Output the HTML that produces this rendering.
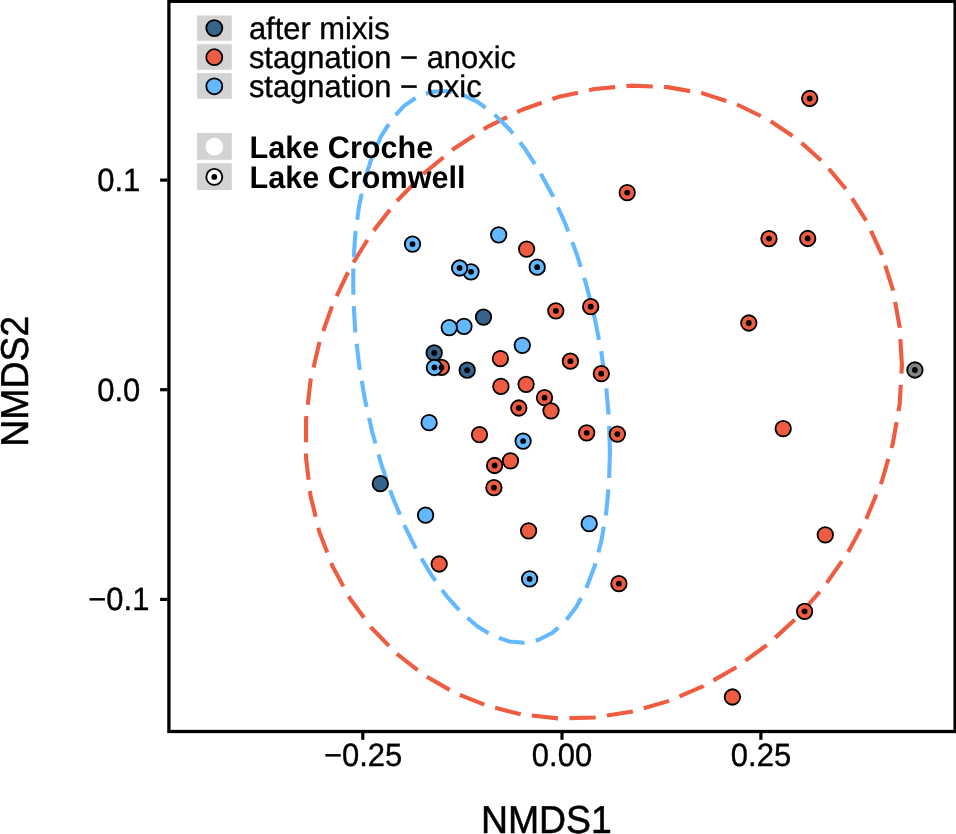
<!DOCTYPE html>
<html><head><meta charset="utf-8"><title>NMDS</title>
<style>
html,body{margin:0;padding:0;background:#fff}
body{width:956px;height:834px;overflow:hidden}
svg{display:block}
text{font-family:"Liberation Sans",Arial,Helvetica,sans-serif;fill:#000;text-rendering:geometricPrecision}
.tk{font-size:31px;stroke:#000;stroke-width:.35px}
.ax{font-size:37.4px;stroke:#000;stroke-width:.5px}
.lg{font-size:30.9px;stroke:#000;stroke-width:.35px}
.lb{font-size:30.6px;font-weight:bold}
</style></head><body>
<svg width="956" height="834" viewBox="0 0 956 834">
<rect x="0" y="0" width="956" height="834" fill="#fff"/>
<g fill="none" stroke-width="4.10" stroke-dasharray="26.36 11.30" stroke-linejoin="round">
<path d="M901.92 365.40 L899.66 327.05 L892.91 289.83 L881.78 254.31 L866.43 221.04 L847.11 190.51 L824.09 163.18 L797.73 139.48 L768.43 119.76 L736.63 104.32 L702.81 93.39 L667.50 87.14 L631.22 85.67 L594.52 89.00 L557.96 97.07 L522.09 109.76 L487.46 126.89 L454.59 148.19 L423.98 173.33 L396.10 201.95 L371.36 233.60 L350.15 267.80 L332.78 304.04 L319.51 341.76 L310.56 380.41 L306.05 419.37 L306.05 458.08 L310.56 495.94 L319.51 532.38 L332.78 566.84 L350.15 598.80 L371.36 627.78 L396.10 653.35 L423.98 675.10 L454.59 692.71 L487.46 705.92 L522.09 714.52 L557.96 718.39 L594.52 717.46 L631.22 711.76 L667.50 701.35 L702.81 686.41 L736.63 667.17 L768.43 643.90 L797.73 616.97 L824.09 586.78 L847.11 553.79 L866.43 518.50 L881.78 481.45 L892.91 443.19 L899.66 404.31 L901.92 365.40" stroke="#ee5c42" stroke-dashoffset="0"/>
<path d="M609.95 452.25 L608.98 419.36 L606.07 385.66 L601.28 351.69 L594.67 317.94 L586.34 284.93 L576.43 253.16 L565.07 223.12 L552.45 195.25 L538.76 169.98 L524.19 147.70 L508.98 128.74 L493.35 113.39 L477.54 101.88 L461.80 94.38 L446.35 91.01 L431.43 91.83 L417.27 96.81 L404.09 105.89 L392.08 118.92 L381.43 135.71 L372.29 156.00 L364.81 179.49 L359.09 205.82 L355.24 234.58 L353.29 265.36 L353.29 297.67 L355.24 331.02 L359.09 364.92 L364.81 398.85 L372.29 432.29 L381.43 464.74 L392.08 495.71 L404.09 524.72 L417.27 551.33 L431.43 575.15 L446.35 595.82 L461.80 613.00 L477.54 626.46 L493.35 635.98 L508.98 641.42 L524.19 642.70 L538.76 639.80 L552.45 632.75 L565.07 621.68 L576.43 606.74 L586.34 588.16 L594.67 566.23 L601.28 541.28 L606.07 513.68 L608.98 483.85 L609.95 452.25" stroke="#63b8ff" stroke-dashoffset="0"/>
<path d="M901.80 367.40 L901.92 365.40 L901.80 363.41" stroke="#ee5c42" stroke-dasharray="none"/>
<path d="M609.89 454.25 L609.95 452.25 L609.89 450.25" stroke="#63b8ff" stroke-dasharray="none"/>
</g>
<g stroke="#000" stroke-width="1.80">
<circle cx="412.5" cy="244.1" r="7.75" fill="#63b8ff"/>
<circle cx="498.7" cy="234.8" r="7.75" fill="#63b8ff"/>
<circle cx="526.6" cy="249.1" r="7.75" fill="#ee5c42"/>
<circle cx="537.2" cy="267.2" r="7.75" fill="#63b8ff"/>
<circle cx="471.0" cy="271.8" r="7.75" fill="#63b8ff"/>
<circle cx="459.6" cy="268.0" r="7.75" fill="#63b8ff"/>
<circle cx="555.8" cy="310.8" r="7.75" fill="#ee5c42"/>
<circle cx="483.5" cy="317.1" r="7.75" fill="#36648b"/>
<circle cx="464.0" cy="326.3" r="7.75" fill="#63b8ff"/>
<circle cx="449.2" cy="327.6" r="7.75" fill="#63b8ff"/>
<circle cx="522.3" cy="345.3" r="7.75" fill="#63b8ff"/>
<circle cx="434.2" cy="352.9" r="7.75" fill="#36648b"/>
<circle cx="500.4" cy="358.7" r="7.75" fill="#ee5c42"/>
<circle cx="570.4" cy="361.2" r="7.75" fill="#ee5c42"/>
<circle cx="441.4" cy="367.4" r="7.75" fill="#ee5c42"/>
<circle cx="434.4" cy="367.5" r="7.75" fill="#63b8ff"/>
<circle cx="467.2" cy="370.2" r="7.75" fill="#36648b"/>
<circle cx="500.9" cy="386.4" r="7.75" fill="#ee5c42"/>
<circle cx="526.1" cy="384.3" r="7.75" fill="#ee5c42"/>
<circle cx="544.5" cy="397.7" r="7.75" fill="#ee5c42"/>
<circle cx="551.0" cy="410.8" r="7.75" fill="#ee5c42"/>
<circle cx="518.8" cy="408.0" r="7.75" fill="#ee5c42"/>
<circle cx="429.1" cy="422.7" r="7.75" fill="#63b8ff"/>
<circle cx="479.5" cy="434.6" r="7.75" fill="#ee5c42"/>
<circle cx="523.1" cy="441.1" r="7.75" fill="#63b8ff"/>
<circle cx="510.5" cy="460.8" r="7.75" fill="#ee5c42"/>
<circle cx="494.6" cy="465.5" r="7.75" fill="#ee5c42"/>
<circle cx="493.9" cy="487.7" r="7.75" fill="#ee5c42"/>
<circle cx="380.3" cy="483.7" r="7.75" fill="#36648b"/>
<circle cx="425.6" cy="515.2" r="7.75" fill="#63b8ff"/>
<circle cx="528.6" cy="530.8" r="7.75" fill="#ee5c42"/>
<circle cx="439.2" cy="564.0" r="7.75" fill="#ee5c42"/>
<circle cx="529.6" cy="578.9" r="7.75" fill="#63b8ff"/>
<circle cx="586.7" cy="432.8" r="7.75" fill="#ee5c42"/>
<circle cx="617.4" cy="434.1" r="7.75" fill="#ee5c42"/>
<circle cx="783.2" cy="428.6" r="7.75" fill="#ee5c42"/>
<circle cx="589.2" cy="523.7" r="7.75" fill="#63b8ff"/>
<circle cx="618.9" cy="583.7" r="7.75" fill="#ee5c42"/>
<circle cx="627.2" cy="192.6" r="7.75" fill="#ee5c42"/>
<circle cx="769.0" cy="238.6" r="7.75" fill="#ee5c42"/>
<circle cx="590.7" cy="306.7" r="7.75" fill="#ee5c42"/>
<circle cx="748.8" cy="323.0" r="7.75" fill="#ee5c42"/>
<circle cx="601.3" cy="373.7" r="7.75" fill="#ee5c42"/>
<circle cx="809.7" cy="98.5" r="7.75" fill="#ee5c42"/>
<circle cx="807.7" cy="238.5" r="7.75" fill="#ee5c42"/>
<circle cx="914.9" cy="370.0" r="7.75" fill="#858585"/>
<circle cx="825.3" cy="534.9" r="7.75" fill="#ee5c42"/>
<circle cx="804.6" cy="611.3" r="7.75" fill="#ee5c42"/>
<circle cx="732.4" cy="697.0" r="7.75" fill="#ee5c42"/>
</g><g fill="#000">
<circle cx="412.5" cy="244.1" r="2.90"/>
<circle cx="537.2" cy="267.2" r="2.90"/>
<circle cx="471.0" cy="271.8" r="2.90"/>
<circle cx="459.6" cy="268.0" r="2.90"/>
<circle cx="555.8" cy="310.8" r="2.90"/>
<circle cx="434.2" cy="352.9" r="2.90"/>
<circle cx="570.4" cy="361.2" r="2.90"/>
<circle cx="441.4" cy="367.4" r="2.90"/>
<circle cx="434.4" cy="367.5" r="2.90"/>
<circle cx="467.2" cy="370.2" r="2.90"/>
<circle cx="544.5" cy="397.7" r="2.90"/>
<circle cx="518.8" cy="408.0" r="2.90"/>
<circle cx="523.1" cy="441.1" r="2.90"/>
<circle cx="494.6" cy="465.5" r="2.90"/>
<circle cx="493.9" cy="487.7" r="2.90"/>
<circle cx="529.6" cy="578.9" r="2.90"/>
<circle cx="586.7" cy="432.8" r="2.90"/>
<circle cx="617.4" cy="434.1" r="2.90"/>
<circle cx="618.9" cy="583.7" r="2.90"/>
<circle cx="627.2" cy="192.6" r="2.90"/>
<circle cx="769.0" cy="238.6" r="2.90"/>
<circle cx="590.7" cy="306.7" r="2.90"/>
<circle cx="748.8" cy="323.0" r="2.90"/>
<circle cx="601.3" cy="373.7" r="2.90"/>
<circle cx="809.7" cy="98.5" r="2.90"/>
<circle cx="807.7" cy="238.5" r="2.90"/>
<circle cx="914.9" cy="370.0" r="2.90"/>
<circle cx="804.6" cy="611.3" r="2.90"/>
</g>
<rect x="168.9" y="1.3" width="786.2" height="730.2" fill="none" stroke="#000" stroke-width="3.3"/>
<g stroke="#000" stroke-width="3.2">
<line x1="160.1" x2="167.4" y1="180.1" y2="180.1"/>
<line x1="160.1" x2="167.4" y1="389.7" y2="389.7"/>
<line x1="160.1" x2="167.4" y1="599.4" y2="599.4"/>
<line y1="732.8" y2="739.8" x1="362.8" x2="362.8"/>
<line y1="732.8" y2="739.8" x1="562.0" x2="562.0"/>
<line y1="732.8" y2="739.8" x1="760.9" x2="760.9"/>
</g>
<text class="tk" text-anchor="middle" transform="translate(118.8,191.1) scale(1,1.040)">0.1</text>
<text class="tk" text-anchor="middle" transform="translate(118.8,400.7) scale(1,1.040)">0.0</text>
<text class="tk" text-anchor="middle" transform="translate(118.8,610.4) scale(1,1.040)">−0.1</text>
<text class="tk" text-anchor="middle" transform="translate(363.1,766.1) scale(1,1.040)">−0.25</text>
<text class="tk" text-anchor="middle" transform="translate(562.0,766.1) scale(1,1.040)">0.00</text>
<text class="tk" text-anchor="middle" transform="translate(761.0,766.1) scale(1,1.040)">0.25</text>
<text class="ax" text-anchor="middle" transform="translate(546.4,832.8) scale(1,1.040)">NMDS1</text>
<text class="ax" text-anchor="middle" transform="translate(27.8,381.3) rotate(-90) scale(1,1.040)">NMDS2</text>
<rect x="197.0" y="15.5" width="34.8" height="25.3" fill="#d3d3d3"/>
<rect x="197.0" y="44.2" width="34.8" height="25.6" fill="#d3d3d3"/>
<rect x="197.0" y="73.1" width="34.8" height="25.7" fill="#d3d3d3"/>
<rect x="197.0" y="133.0" width="34.8" height="26.8" fill="#d3d3d3"/>
<rect x="197.0" y="163.2" width="34.8" height="26.8" fill="#d3d3d3"/>
<circle cx="214.3" cy="28.1" r="8.00" fill="#36648b" stroke="#000" stroke-width="1.80"/>
<circle cx="214.3" cy="57.2" r="8.00" fill="#ee5c42" stroke="#000" stroke-width="1.80"/>
<circle cx="214.3" cy="86.3" r="8.00" fill="#63b8ff" stroke="#000" stroke-width="1.80"/>
<circle cx="214.3" cy="146.7" r="8.00" fill="#fff" stroke="#fff" stroke-width="1.80"/>
<circle cx="214.3" cy="176.9" r="8.00" fill="#fff" stroke="#000" stroke-width="1.80"/>
<circle cx="214.3" cy="176.9" r="2.90" fill="#000"/>
<text class="lg" transform="translate(248.9,38.9) scale(1,1.010)">after mixis</text>
<text class="lg" transform="translate(248.9,67.7) scale(1,1.010)">stagnation − anoxic</text>
<text class="lg" transform="translate(248.9,96.9) scale(1,1.010)">stagnation − oxic</text>
<text class="lb" transform="translate(249.6,158.2) scale(1,1.020)">Lake Croche</text>
<text class="lb" transform="translate(249.6,187.9) scale(1,1.020)">Lake Cromwell</text>
</svg></body></html>
